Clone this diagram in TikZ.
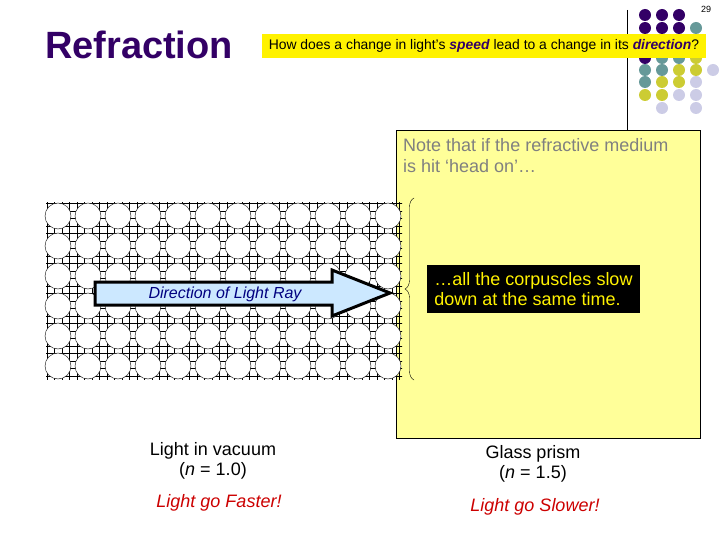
\documentclass[tikz,border=0pt]{standalone}
\usepackage{fontspec}
\setmainfont{Liberation Sans}
\usetikzlibrary{decorations.pathreplacing}
\definecolor{purp}{RGB}{51,0,102}
\definecolor{teal}{RGB}{102,153,153}
\definecolor{oliv}{RGB}{204,204,51}
\definecolor{lav}{RGB}{204,204,230}
\definecolor{yel}{RGB}{255,255,153}
\definecolor{ray}{RGB}{204,232,255}
\tikzset{dot/.style={circle,inner sep=0pt,minimum size=12pt},
lbl/.style={font=\fontsize{18}{20}\selectfont,align=center}}
\begin{document}
\begin{tikzpicture}[x=1pt,y=-1pt]
\useasboundingbox (0,0) rectangle (720,540);
\node (num) at (706,9) {\fontsize{9}{10}\selectfont 29};
\node[text=purp,font=\fontsize{38}{40}\selectfont\bfseries] (title) at (139,45) {Refraction};
\draw (627,10) -- (627,130);
% dots
\foreach \c/\x/\y in {purp/645/15,purp/662/15,purp/679/15,
purp/645/28,purp/662/28,purp/679/28,teal/696/28,
purp/645/58,teal/662/58,teal/679/58,oliv/696/58,
teal/645/70,teal/662/70,oliv/679/70,oliv/696/70,lav/713/70,
teal/645/82,oliv/662/82,oliv/679/82,lav/696/82,
oliv/645/95,oliv/662/95,lav/679/95,lav/696/95,
lav/662/108,lav/696/108}
  \node[dot,fill=\c] at (\x,\y) {};
\node[fill=yellow,minimum width=444pt,minimum height=24pt,inner sep=0pt,font=\fontsize{13.9}{15}\selectfont] (q) at (484,46) {How does a change in light’s \textcolor{purp}{\textbf{\textit{speed}}} lead to a change in its \textcolor{purp}{\textbf{\textit{direction}}}?};
% yellow medium
\draw[fill=yel] (396,130) rectangle (700,438);
\node[anchor=north west,text=gray,align=left,font=\fontsize{18}{21}\selectfont,inner sep=0pt] (note) at (403,138) {Note that if the refractive medium\\is hit ‘head on’…};
% grid
\begin{scope}
\clip (46,203) rectangle (402,379);
\draw[line width=0.8pt,shift={(2,1)}] (40,200) grid[xstep=7.5pt,ystep=7.5pt] (405,380);
\end{scope}
\foreach \i in {0,...,11}\foreach \j in {0,...,5}
  \draw[fill=white] (58+30*\i,216+30*\j) circle (13);
% arrow
\draw[line width=3pt,fill=ray,line join=miter] (95,282) -- (332,282) -- (332,270) -- (390,293) -- (332,316) -- (332,305) -- (95,305) -- cycle;
\node[text=blue!50!black,font=\fontsize{16}{18}\selectfont\itshape] (dir) at (225,294) {Direction of Light Ray};
\coordinate (bt) at (414,198);
\coordinate (bb) at (414,380);
\draw[decorate,decoration={brace,amplitude=9pt}] (bb) -- (bt);
\node[fill=black,text=yellow,minimum width=213pt,minimum height=48pt,font=\fontsize{18}{20}\selectfont,align=left] (blk) at (533.5,289) {…all the corpuscles slow\\down at the same time.};
\node[lbl] (vac) at (213,461) {Light in vacuum\\(\textit{n} = 1.0)};
\node[lbl] (gl) at (533,464) {Glass prism\\(\textit{n} = 1.5)};
\node[lbl,text=red!80!black,font=\fontsize{18}{20}\selectfont\itshape] (fast) at (219,503) {Light go Faster!};
\node[lbl,text=red!80!black,font=\fontsize{18}{20}\selectfont\itshape] (slow) at (535,507) {Light go Slower!};
\end{tikzpicture}
\end{document}
